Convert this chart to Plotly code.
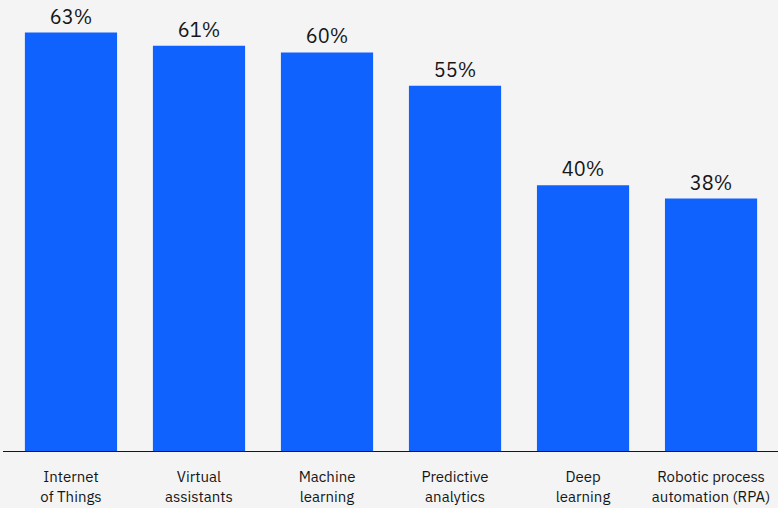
import plotly.graph_objects as go

categories = ["Internet<br>of Things", "Virtual<br>assistants", "Machine<br>learning",
              "Predictive<br>analytics", "Deep<br>learning", "Robotic process<br>automation (RPA)"]
values = [63, 61, 60, 55, 40, 38]
labels = [f"{v}%" for v in values]

fig = go.Figure(go.Bar(
    x=list(range(len(categories))), y=values, text=labels,
    textposition="outside", cliponaxis=False,
    textfont=dict(size=20, color="#161616"),
    marker=dict(color="#0f62fe", line=dict(width=0)),
    width=0.72,
))
fig.update_layout(
    width=778, height=508,
    margin=dict(l=3, r=0, t=0, b=57),
    paper_bgcolor="#f4f4f4", plot_bgcolor="#f4f4f4",
    font=dict(family="IBM Plex Sans, Noto Sans, sans-serif", color="#161616"),
    showlegend=False,
    xaxis=dict(range=[-0.531, 5.523], tickvals=list(range(len(categories))), ticktext=categories,
               tickfont=dict(size=15, color="#161616"), showgrid=False, zeroline=False,
               showline=True, linecolor="#161616", linewidth=1.2, ticks="",
               ticklabelstandoff=12, fixedrange=True),
    yaxis=dict(range=[0, 67.9], visible=False, showgrid=False, zeroline=False),
)
fig.write_html("out.html")
